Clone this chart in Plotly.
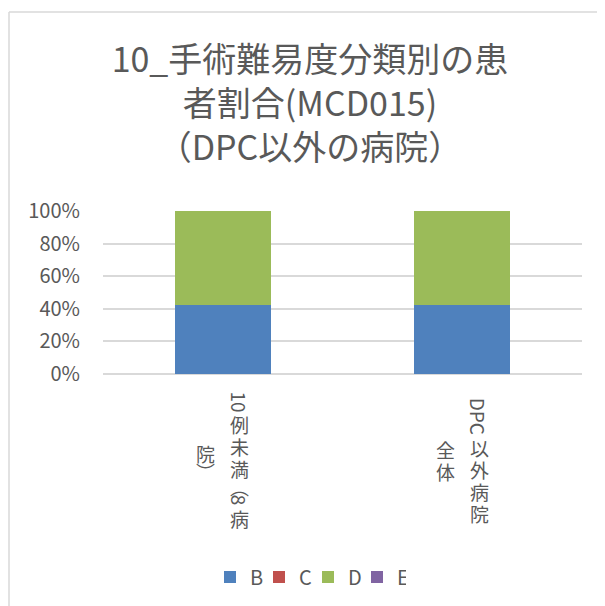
import plotly.graph_objects as go

# data
categories = ["10例未満（8病院）", "DPC以外病院全体"]
tick_columns = [["10例未満（8病", "院）"], ["DPC以外病院", "全体"]]
series_names = ["B", "C", "D", "E"]
b_share = [0.423, 0.423]
c_share = [0.0, 0.0]
d_share = [0.577, 0.577]
e_share = [0.0, 0.0]
y_ticks = [0, 0.2, 0.4, 0.6, 0.8, 1.0]

colors = {"B": "#4F81BD", "C": "#C0504D", "D": "#9BBB59", "E": "#8064A2"}
text_color = "#595959"
grid_color = "#D9D9D9"
font_family = "Noto Sans CJK JP"

# the page adds an 8px body margin, so layout is offset by -8px
OFF = 8
W, H = 605, 606
L, R, T, B = 103 - OFF, 605 - 582 + OFF, 211 - OFF, 606 - 374 + OFF
pw, ph = W - L - R, H - T - B

fig = go.Figure()
for name, vals in zip(series_names, [b_share, c_share, d_share, e_share]):
    fig.add_trace(go.Bar(x=categories, y=vals, name=name, marker_color=colors[name],
                         marker_line_width=0))

# vertical-writing tick labels (Excel style): CJK upright, latin runs rotated
vertical_forms = {"（": "︵", "）": "︶"}
CJK_PITCH = 22
PAREN_PITCH = 14
COL_GAP = 34
COL_CENTER = 86  # px below plot bottom


def latin_len(t):
    return sum(12 if c.isupper() else 9.5 for c in t) + 4


def segments(s):
    segs = []
    run = ""
    for ch in s:
        if ch.isascii():
            run += ch
            continue
        if run:
            segs.append((run, True, latin_len(run)))
            run = ""
        if ch in vertical_forms:
            segs.append((vertical_forms[ch], False, PAREN_PITCH))
        else:
            segs.append((ch, False, CJK_PITCH))
    if run:
        segs.append((run, True, latin_len(run)))
    return segs


annotations = []
for cat, cols in zip(categories, tick_columns):
    n = len(cols)
    for i, col in enumerate(cols):
        xshift = (n - 1) / 2 * COL_GAP - i * COL_GAP
        segs = segments(col)
        pos = COL_CENTER - sum(s[2] for s in segs) / 2
        for t, rot, ln in segs:
            annotations.append(dict(
                x=cat, xref="x", y=0, yref="paper", yanchor="middle", xanchor="center",
                xshift=xshift, yshift=-(pos + ln / 2), text=t, showarrow=False,
                textangle=90 if rot else 0,
                font=dict(family=font_family, size=19, color=text_color),
            ))
            pos += ln

# chart frame (light border at left and top)
fx = (9 - OFF - L) / pw
fy = (H - B - (12 - OFF)) / ph
shapes = [
    dict(type="line", xref="paper", yref="paper", x0=fx, x1=fx, y0=fy, y1=-(B + 10) / ph,
         line=dict(color=grid_color, width=1.5)),
    dict(type="line", xref="paper", yref="paper", x0=fx, x1=(W - L + 10) / pw, y0=fy, y1=fy,
         line=dict(color=grid_color, width=1.5)),
]

fig.update_layout(
    width=W, height=H,
    margin=dict(l=L, r=R, t=T, b=B, autoexpand=False),
    paper_bgcolor="white", plot_bgcolor="white",
    barmode="stack", bargap=0.6,
    font=dict(family=font_family, color=text_color),
    title=dict(
        text="10_手術難易度分類別の患<br>者割合(MCD015)<br>（DPC以外の病院）",
        x=(310 - OFF) / W, xanchor="center", y=1 - 64 / H, yanchor="top",
        font=dict(family=font_family, size=34, color=text_color),
    ),
    xaxis=dict(type="category", showticklabels=False, showgrid=False, showline=False,
               zeroline=False, ticks=""),
    yaxis=dict(range=[0, 1], tickvals=y_ticks, tickformat=".0%", showgrid=True,
               gridcolor=grid_color, gridwidth=1.5, zeroline=True, zerolinecolor=grid_color,
               zerolinewidth=1.5, showline=False, ticks="", ticklabelstandoff=22,
               automargin=False,
               tickfont=dict(family=font_family, size=20, color=text_color)),
    legend=dict(orientation="h", x=(308 - OFF - L) / pw, xanchor="center",
                y=-(577 - OFF - (H - B)) / ph, yanchor="middle", itemwidth=30,
                entrywidth=4, entrywidthmode="pixels",
                font=dict(family=font_family, size=20, color=text_color),
                traceorder="normal"),
    annotations=annotations,
    shapes=shapes,
)

fig.write_html("out.html")
